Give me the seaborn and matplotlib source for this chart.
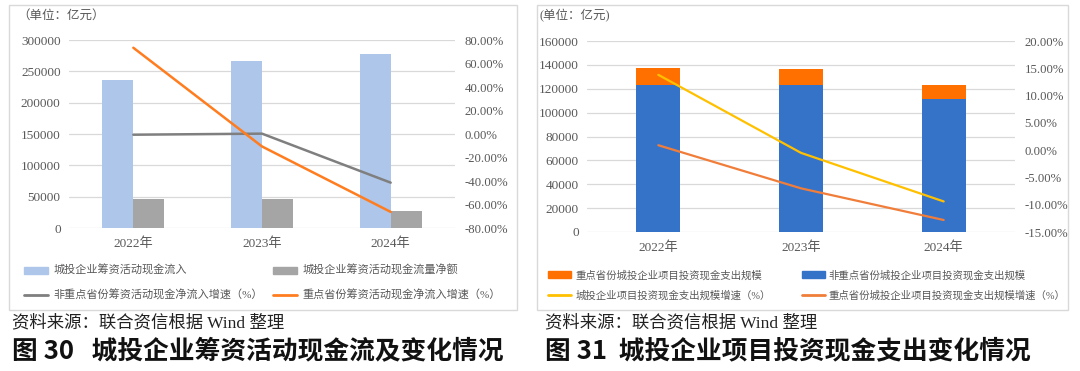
import matplotlib

matplotlib.use("Agg")
import matplotlib.pyplot as plt
import numpy as np
import pandas as pd
import seaborn as sns
from matplotlib.lines import Line2D
from matplotlib.patches import Patch, Rectangle
from matplotlib.ticker import FuncFormatter, MultipleLocator

# ---- data (亿元 / %) ----
years = ["2022年", "2023年", "2024年"]

# 图30 城投企业筹资活动现金流
financing_inflow = [236900, 266500, 277300]
financing_net = [47000, 46800, 27800]
non_key_net_growth = [-0.6, 0.3, -41.4]
key_net_growth = [73.4, -10.6, -66.3]

# 图31 城投企业项目投资现金支出
non_key_invest = [122900, 122900, 111400]
key_invest = [14350, 13500, 12100]
total_invest_growth = [13.8, -0.5, -9.4]
key_invest_growth = [0.9, -7.0, -12.8]

left_names = [
    "城投企业筹资活动现金流入",
    "城投企业筹资活动现金流量净额",
    "非重点省份筹资活动现金净流入增速（%）",
    "重点省份筹资活动现金净流入增速（%）",
]
right_names = [
    "重点省份城投企业项目投资现金支出规模",
    "非重点省份城投企业项目投资现金支出规模",
    "城投企业项目投资现金支出规模增速（%）",
    "重点省份城投企业项目投资现金支出规模增速（%）",
]

# ---- style ----
sns.set_theme(style="white")
plt.rcParams["font.family"] = ["Liberation Serif", "Noto Sans CJK SC"]
plt.rcParams["axes.unicode_minus"] = False

TEXT_GRAY = "#595959"
GRID_GRAY = "#D9D9D9"
WIDTH, HEIGHT = 1080, 371

figure = plt.figure(figsize=(WIDTH / 100, HEIGHT / 100), dpi=100)


def axes_at(left, top, right, bottom):
    """Add axes given pixel edges (origin top-left)."""
    return figure.add_axes(
        [left / WIDTH, 1 - bottom / HEIGHT, (right - left) / WIDTH, (bottom - top) / HEIGHT]
    )


def frame_at(left, top, right, bottom):
    figure.patches.append(
        Rectangle(
            (left / WIDTH, 1 - bottom / HEIGHT),
            (right - left) / WIDTH,
            (bottom - top) / HEIGHT,
            transform=figure.transFigure,
            fill=False,
            edgecolor=GRID_GRAY,
            linewidth=1.0,
        )
    )


def style_axes(axis, twin, percent_fmt):
    for ax in (axis, twin):
        for spine in ax.spines.values():
            spine.set_visible(False)
        ax.set_xlabel("")
        ax.set_ylabel("")
    axis.grid(axis="y", color=GRID_GRAY, linewidth=0.9)
    axis.set_axisbelow(True)
    axis.tick_params(axis="y", length=0, labelsize=9.5, labelcolor=TEXT_GRAY, pad=6)
    axis.tick_params(axis="x", length=0, labelsize=9.5, labelcolor=TEXT_GRAY, pad=7)
    twin.tick_params(axis="y", length=0, labelsize=9.2, labelcolor=TEXT_GRAY, pad=7)
    twin.yaxis.set_major_formatter(FuncFormatter(lambda v, _: percent_fmt.format(v)))
    axis.set_xlim(-0.5, len(years) - 0.5)


# ---- 图30 ----
frame_at(9, 5, 517, 310)
axis_left = axes_at(69, 40, 455, 228)
left_df = pd.DataFrame(
    {
        "year": years * 2,
        "value": financing_inflow + financing_net,
        "series": [left_names[0]] * 3 + [left_names[1]] * 3,
    }
)
left_bar_colors = ["#AEC6E9", "#A5A5A5"]
sns.barplot(
    data=left_df,
    x="year",
    y="value",
    hue="series",
    palette=left_bar_colors,
    width=0.48,
    saturation=1,
    errorbar=None,
    legend=False,
    linewidth=0,
    ax=axis_left,
)
axis_left.set_ylim(0, 300000)
axis_left.yaxis.set_major_locator(MultipleLocator(50000))

twin_left = axis_left.twinx()
left_line_colors = ["#7F7F7F", "#FF7C1F"]
positions = np.arange(len(years))
sns.lineplot(x=positions, y=non_key_net_growth, color=left_line_colors[0], linewidth=1.8, ax=twin_left)
sns.lineplot(x=positions, y=key_net_growth, color=left_line_colors[1], linewidth=1.8, ax=twin_left)
twin_left.set_ylim(-80, 80)
twin_left.yaxis.set_major_locator(MultipleLocator(20))
style_axes(axis_left, twin_left, "{:.2f}%")

figure.text(17 / WIDTH, 1 - 16 / HEIGHT, "（单位：亿元）", fontsize=9, color=TEXT_GRAY, va="center")

left_handles = [
    Patch(color=left_bar_colors[0]),
    Line2D([], [], color=left_line_colors[0], linewidth=2),
    Patch(color=left_bar_colors[1]),
    Line2D([], [], color=left_line_colors[1], linewidth=2),
]
figure.legend(
    left_handles,
    [left_names[0], left_names[2], left_names[1], left_names[3]],
    loc="upper left",
    bbox_to_anchor=(24 / WIDTH, 1 - 265 / HEIGHT),
    ncol=2,
    frameon=False,
    fontsize=8,
    labelcolor=TEXT_GRAY,
    handlelength=2.2,
    handleheight=0.6,
    handletextpad=0.45,
    columnspacing=0.9,
    labelspacing=1.2,
    borderaxespad=0,
    borderpad=0,
)

# ---- 图31 ----
frame_at(537, 5, 1068, 310)
axis_right = axes_at(587, 41, 1015, 232)
right_bar_colors = ["#FF7000", "#3573C9"]
total_invest = np.add(non_key_invest, key_invest)
sns.barplot(x=years, y=total_invest, color=right_bar_colors[0], width=0.31, saturation=1,
            errorbar=None, linewidth=0, ax=axis_right)
sns.barplot(x=years, y=non_key_invest, color=right_bar_colors[1], width=0.31, saturation=1,
            errorbar=None, linewidth=0, ax=axis_right)
axis_right.set_ylim(0, 160000)
axis_right.yaxis.set_major_locator(MultipleLocator(20000))

twin_right = axis_right.twinx()
right_line_colors = ["#FFC000", "#F07E3A"]
sns.lineplot(x=positions, y=total_invest_growth, color=right_line_colors[0], linewidth=1.6, ax=twin_right)
sns.lineplot(x=positions, y=key_invest_growth, color=right_line_colors[1], linewidth=1.6, ax=twin_right)
twin_right.set_ylim(-15, 20)
twin_right.yaxis.set_major_locator(MultipleLocator(5))
style_axes(axis_right, twin_right, "{:.2f}%")

figure.text(540 / WIDTH, 1 - 16 / HEIGHT, "(单位：亿元)", fontsize=9, color=TEXT_GRAY, va="center")

right_handles = [
    Patch(color=right_bar_colors[0]),
    Line2D([], [], color=right_line_colors[0], linewidth=2),
    Patch(color=right_bar_colors[1]),
    Line2D([], [], color=right_line_colors[1], linewidth=2),
]
figure.legend(
    right_handles,
    [right_names[0], right_names[2], right_names[1], right_names[3]],
    loc="upper left",
    bbox_to_anchor=(548 / WIDTH, 1 - 270 / HEIGHT),
    ncol=2,
    frameon=False,
    fontsize=7.5,
    labelcolor=TEXT_GRAY,
    handlelength=2.2,
    handleheight=0.6,
    handletextpad=0.4,
    columnspacing=3.0,
    labelspacing=0.95,
    borderaxespad=0,
    borderpad=0,
)

# ---- captions ----
for x_px, title in [
    (12, "图 30   城投企业筹资活动现金流及变化情况"),
    (545, "图 31  城投企业项目投资现金支出变化情况"),
]:
    figure.text(x_px / WIDTH, 1 - 323 / HEIGHT, "资料来源：联合资信根据 Wind 整理",
                fontsize=12.5, color="#222222", va="center")
    figure.text(x_px / WIDTH, 1 - 351 / HEIGHT, title, fontsize=18.5, fontweight="bold",
                color="#111111", va="center", family=["Noto Sans CJK SC"])

figure.savefig("out.png", dpi=100)
plt.close(figure)
